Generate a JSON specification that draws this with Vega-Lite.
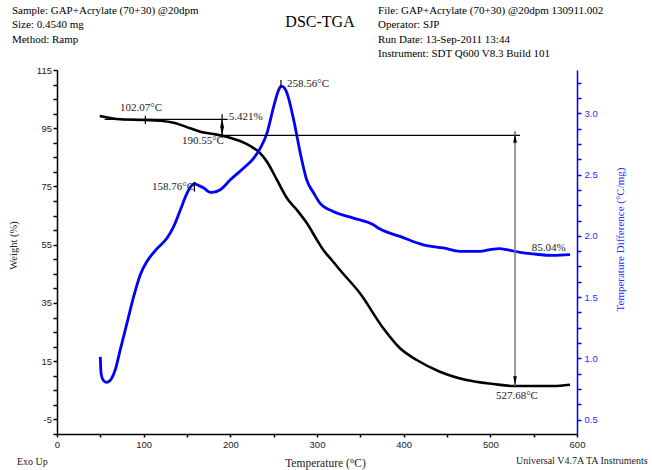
{
  "$schema": "https://vega.github.io/schema/vega-lite/v6.json",
  "width": 520,
  "height": 364,
  "autosize": "none",
  "padding": {"left": 57, "top": 70, "right": 75, "bottom": 36},
  "background": "white",
  "config": {"view": {"stroke": null}, "axis": {"grid": false}},
  "datasets": {
    "tga": [
      {"t": 49.3, "w": 99.2}, {"t": 73.0, "w": 98.07}, {"t": 101.9, "w": 97.83}, {"t": 119.2, "w": 97.59},
      {"t": 134.6, "w": 96.9}, {"t": 153.8, "w": 94.98}, {"t": 165.3, "w": 93.81}, {"t": 180.8, "w": 93.02},
      {"t": 192.3, "w": 92.33}, {"t": 207.7, "w": 90.96}, {"t": 223.0, "w": 88.9}, {"t": 234.6, "w": 86.39},
      {"t": 242.3, "w": 83.51}, {"t": 253.8, "w": 77.23}, {"t": 265.4, "w": 70.94}, {"t": 276.9, "w": 66.92},
      {"t": 288.4, "w": 62.36}, {"t": 300.0, "w": 56.62}, {"t": 307.3, "w": 53.19}, {"t": 317.0, "w": 49.75},
      {"t": 326.5, "w": 46.32}, {"t": 349.6, "w": 38.32}, {"t": 376.5, "w": 26.3}, {"t": 395.8, "w": 19.43},
      {"t": 415.1, "w": 15.41}, {"t": 441.8, "w": 11.39}, {"t": 472.6, "w": 8.54}, {"t": 503.4, "w": 7.17},
      {"t": 526.5, "w": 6.48}, {"t": 549.6, "w": 6.48}, {"t": 572.6, "w": 6.48}, {"t": 591.9, "w": 6.93}
    ],
    "dsc": [
      {"t": 50.0, "d": 1.012}, {"t": 50.8, "d": 0.882}, {"t": 53.5, "d": 0.82}, {"t": 56.9, "d": 0.805},
      {"t": 61.5, "d": 0.822}, {"t": 67.3, "d": 0.909}, {"t": 73.0, "d": 1.072}, {"t": 80.8, "d": 1.289},
      {"t": 88.5, "d": 1.506}, {"t": 96.1, "d": 1.683}, {"t": 103.8, "d": 1.791}, {"t": 115.4, "d": 1.895},
      {"t": 127.0, "d": 1.982}, {"t": 134.7, "d": 2.077}, {"t": 142.4, "d": 2.213}, {"t": 150.1, "d": 2.349},
      {"t": 155.5, "d": 2.41}, {"t": 158.8, "d": 2.425}, {"t": 161.7, "d": 2.416}, {"t": 169.4, "d": 2.39},
      {"t": 175.0, "d": 2.36}, {"t": 178.9, "d": 2.354}, {"t": 188.4, "d": 2.376}, {"t": 200.0, "d": 2.457},
      {"t": 215.4, "d": 2.553}, {"t": 227.0, "d": 2.634}, {"t": 234.6, "d": 2.716}, {"t": 242.3, "d": 2.838},
      {"t": 250.0, "d": 3.055}, {"t": 255.8, "d": 3.191}, {"t": 258.6, "d": 3.222}, {"t": 262.0, "d": 3.21},
      {"t": 265.4, "d": 3.164}, {"t": 273.1, "d": 2.946}, {"t": 280.7, "d": 2.675}, {"t": 288.1, "d": 2.457},
      {"t": 296.2, "d": 2.349}, {"t": 303.4, "d": 2.267}, {"t": 318.8, "d": 2.199}, {"t": 341.9, "d": 2.145},
      {"t": 365.0, "d": 2.09}, {"t": 372.7, "d": 2.055}, {"t": 395.8, "d": 1.995}, {"t": 422.6, "d": 1.927},
      {"t": 445.7, "d": 1.901}, {"t": 465.0, "d": 1.873}, {"t": 488.0, "d": 1.873}, {"t": 499.6, "d": 1.887},
      {"t": 511.1, "d": 1.895}, {"t": 518.9, "d": 1.887}, {"t": 534.2, "d": 1.865}, {"t": 549.6, "d": 1.852},
      {"t": 572.6, "d": 1.84}, {"t": 591.9, "d": 1.846}
    ],
    "vrules": [
      {"t": 101.9, "w": 99.31, "w2": 96.46},
      {"t": 190.5, "w": 99.79, "w2": 92.1},
      {"t": 258.4, "w": 111.57, "w2": 108.82},
      {"t": 158.6, "w": 76.64, "w2": 73.21}
    ],
    "hrules": [
      {"t": 55, "t2": 197, "w": 98.07},
      {"t": 190.5, "t2": 534.2, "w": 92.58}
    ],
    "grayrule": [{"t": 528.5, "w": 94.05, "w2": 6.48}],
    "arrUp": [{"t": 190.5, "w": 96.97}, {"t": 528.5, "w": 91.65}],
    "arrDown": [{"t": 190.5, "w": 93.88}, {"t": 528.5, "w": 8.2}],
    "labels": [
      {"t": 72.7, "w": 101.85, "text": "102.07°C"},
      {"t": 198.1, "w": 98.96, "text": "5.421%"},
      {"t": 144.2, "w": 90.62, "text": "190.55°C"},
      {"t": 109.6, "w": 74.72, "text": "158.76°C"},
      {"t": 265.4, "w": 110.19, "text": "258.56°C"},
      {"t": 547.7, "w": 53.77, "text": "85.04%"},
      {"t": 506.5, "w": 3.15, "text": "527.68°C"}
    ],
    "header": [
      {"t": -52, "w": 135.2, "text": "Sample: GAP+Acrylate (70+30) @20dpm"},
      {"t": -52, "w": 130.3, "text": "Size:  0.4540 mg"},
      {"t": -52, "w": 125.3, "text": "Method: Ramp"},
      {"t": 370.4, "w": 135.2, "text": "File: GAP+Acrylate (70+30) @20dpm 130911.002"},
      {"t": 370.4, "w": 130.3, "text": "Operator: SJP"},
      {"t": 370.4, "w": 125.3, "text": "Run Date: 13-Sep-2011 13:44"},
      {"t": 370.4, "w": 120.49, "text": "Instrument: SDT Q600 V8.3 Build 101"}
    ],
    "maintitle": [{"t": 303.5, "w": 131.48, "text": "DSC-TGA"}],
    "footLeft": [{"t": -46.2, "w": -19.6, "text": "Exo Up"}],
    "footRight": [{"t": 681.5, "w": -19.3, "text": "Universal V4.7A TA Instruments"}]
  },
  "layer": [
    {
      "data": {"name": "tga"},
      "mark": {"type": "line", "color": "#000000", "strokeWidth": 2.6, "interpolate": "monotone"},
      "encoding": {
        "x": {
          "field": "t", "type": "quantitative",
          "scale": {"domain": [0, 600], "nice": false, "zero": false},
          "axis": {
            "title": "Temperature (°C)",
            "values": [0, 25, 50, 75, 100, 125, 150, 175, 200, 225, 250, 275, 300, 325, 350, 375, 400, 425, 450, 475, 500, 525, 550, 575, 600],
            "labelExpr": "datum.value % 100 == 0 ? '' + datum.value : ''",
            "domainColor": "#000000", "domainWidth": 1.5,
            "tickColor": "#000000", "tickSize": 3, "tickWidth": 1.5,
            "labelFont": "Liberation Sans", "labelFontSize": 9.5, "labelColor": "#222222", "labelPadding": 2,
            "labelFlush": false, "labelOverlap": false,
            "titleFont": "Liberation Serif", "titleFontSize": 11.5, "titleFontWeight": "normal", "titleColor": "#222222",
            "titleX": 268, "titleY": 29, "titleBaseline": "middle", "titleAlign": "center"
          }
        },
        "y": {
          "field": "w", "type": "quantitative",
          "scale": {"domain": [-10, 115], "nice": false, "zero": false},
          "axis": {
            "orient": "left",
            "title": "Weight (%)",
            "values": [-10, -5, 0, 5, 10, 15, 20, 25, 30, 35, 40, 45, 50, 55, 60, 65, 70, 75, 80, 85, 90, 95, 100, 105, 110, 115],
            "labelExpr": "(datum.value + 5) % 20 == 0 ? '' + datum.value : ''",
            "domainColor": "#000000", "domainWidth": 1.5,
            "tickColor": "#000000", "tickSize": 4, "tickWidth": 1.5,
            "labelFont": "Liberation Sans", "labelFontSize": 9.5, "labelColor": "#222222", "labelPadding": 1.5,
            "labelFlush": false, "labelOverlap": false,
            "titleFont": "Liberation Serif", "titleFontSize": 10.5, "titleFontWeight": "normal", "titleColor": "#222222",
            "titleX": -44, "titleY": 175, "titleAngle": 270, "titleBaseline": "middle", "titleAlign": "center"
          }
        }
      }
    },
    {
      "data": {"name": "dsc"},
      "mark": {"type": "line", "color": "#0000ff", "strokeWidth": 2.8, "interpolate": "monotone"},
      "encoding": {
        "x": {"field": "t", "type": "quantitative"},
        "y": {
          "field": "d", "type": "quantitative",
          "scale": {"domain": [0.383, 3.353], "nice": false, "zero": false},
          "axis": {
            "orient": "right",
            "title": "Temperature Difference (°C/mg)",
            "values": [0.5, 0.625, 0.75, 0.875, 1.0, 1.125, 1.25, 1.375, 1.5, 1.625, 1.75, 1.875, 2.0, 2.125, 2.25, 2.375, 2.5, 2.625, 2.75, 2.875, 3.0, 3.125, 3.25],
            "labelExpr": "datum.value % 0.5 == 0 ? format(datum.value, '.1f') : ''",
            "domainColor": "#0000ff", "domainWidth": 1.5,
            "tickColor": "#0000ff", "tickSize": 4, "tickWidth": 1.5,
            "labelFont": "Liberation Sans", "labelFontSize": 9.5, "labelColor": "#2a2aff", "labelPadding": 3,
            "labelFlush": false, "labelOverlap": false,
            "titleFont": "Liberation Serif", "titleFontSize": 11, "titleFontWeight": "normal", "titleColor": "#2a2aff",
            "titleX": 43, "titleY": 169, "titleAngle": 270, "titleBaseline": "middle", "titleAlign": "center"
          }
        }
      }
    },
    {
      "data": {"name": "hrules"},
      "mark": {"type": "rule", "color": "#000000", "strokeWidth": 1.2},
      "encoding": {
        "x": {"field": "t", "type": "quantitative"},
        "x2": {"field": "t2"},
        "y": {"field": "w", "type": "quantitative", "scale": {"domain": [-10, 115], "nice": false, "zero": false}, "axis": null}
      }
    },
    {
      "data": {"name": "vrules"},
      "mark": {"type": "rule", "color": "#000000", "strokeWidth": 1.2},
      "encoding": {
        "x": {"field": "t", "type": "quantitative"},
        "y": {"field": "w", "type": "quantitative", "scale": {"domain": [-10, 115], "nice": false, "zero": false}, "axis": null},
        "y2": {"field": "w2"}
      }
    },
    {
      "data": {"name": "grayrule"},
      "mark": {"type": "rule", "color": "#777777", "strokeWidth": 1.5},
      "encoding": {
        "x": {"field": "t", "type": "quantitative"},
        "y": {"field": "w", "type": "quantitative", "scale": {"domain": [-10, 115], "nice": false, "zero": false}, "axis": null},
        "y2": {"field": "w2"}
      }
    },
    {
      "data": {"name": "arrUp"},
      "mark": {"type": "point", "shape": "M0,-1L0.38,1L-0.38,1Z", "filled": true, "color": "#000000", "opacity": 1, "size": 90},
      "encoding": {
        "x": {"field": "t", "type": "quantitative"},
        "y": {"field": "w", "type": "quantitative", "scale": {"domain": [-10, 115], "nice": false, "zero": false}, "axis": null}
      }
    },
    {
      "data": {"name": "arrDown"},
      "mark": {"type": "point", "shape": "M0,1L0.38,-1L-0.38,-1Z", "filled": true, "color": "#000000", "opacity": 1, "size": 90},
      "encoding": {
        "x": {"field": "t", "type": "quantitative"},
        "y": {"field": "w", "type": "quantitative", "scale": {"domain": [-10, 115], "nice": false, "zero": false}, "axis": null}
      }
    },
    {
      "data": {"name": "labels"},
      "mark": {"type": "text", "font": "Liberation Serif", "fontSize": 11, "color": "#222222", "align": "left", "baseline": "middle"},
      "encoding": {
        "x": {"field": "t", "type": "quantitative"},
        "y": {"field": "w", "type": "quantitative", "scale": {"domain": [-10, 115], "nice": false, "zero": false}, "axis": null},
        "text": {"field": "text"}
      }
    },
    {
      "data": {"name": "header"},
      "mark": {"type": "text", "font": "Liberation Serif", "fontSize": 11, "color": "#000000", "align": "left", "baseline": "middle"},
      "encoding": {
        "x": {"field": "t", "type": "quantitative"},
        "y": {"field": "w", "type": "quantitative", "scale": {"domain": [-10, 115], "nice": false, "zero": false}, "axis": null},
        "text": {"field": "text"}
      }
    },
    {
      "data": {"name": "maintitle"},
      "mark": {"type": "text", "font": "Liberation Serif", "fontSize": 16, "color": "#000000", "align": "center", "baseline": "middle"},
      "encoding": {
        "x": {"field": "t", "type": "quantitative"},
        "y": {"field": "w", "type": "quantitative", "scale": {"domain": [-10, 115], "nice": false, "zero": false}, "axis": null},
        "text": {"field": "text"}
      }
    },
    {
      "data": {"name": "footLeft"},
      "mark": {"type": "text", "font": "Liberation Serif", "fontSize": 10, "color": "#222222", "align": "left", "baseline": "middle"},
      "encoding": {
        "x": {"field": "t", "type": "quantitative"},
        "y": {"field": "w", "type": "quantitative", "scale": {"domain": [-10, 115], "nice": false, "zero": false}, "axis": null},
        "text": {"field": "text"}
      }
    },
    {
      "data": {"name": "footRight"},
      "mark": {"type": "text", "font": "Liberation Serif", "fontSize": 10, "color": "#222222", "align": "right", "baseline": "middle"},
      "encoding": {
        "x": {"field": "t", "type": "quantitative"},
        "y": {"field": "w", "type": "quantitative", "scale": {"domain": [-10, 115], "nice": false, "zero": false}, "axis": null},
        "text": {"field": "text"}
      }
    }
  ],
  "resolve": {"scale": {"y": "independent"}}
}
